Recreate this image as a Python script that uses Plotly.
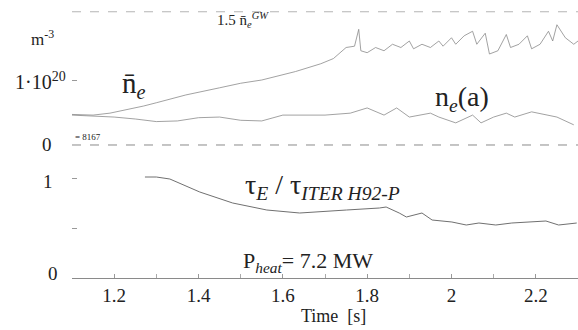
import plotly.graph_objects as go
from plotly.subplots import make_subplots

# ---- data ----
ne_bar_t = [1.10, 1.15, 1.19, 1.23, 1.27, 1.30, 1.37, 1.45, 1.50, 1.55, 1.60, 1.63, 1.69, 1.72, 1.75,
            1.77, 1.78, 1.785, 1.80, 1.82, 1.84, 1.86, 1.88, 1.90, 1.91, 1.93, 1.95, 1.97, 1.98,
            2.00, 2.01, 2.03, 2.05, 2.06, 2.08, 2.09, 2.11, 2.13, 2.14, 2.16, 2.18, 2.19, 2.21,
            2.23, 2.24, 2.25, 2.27, 2.29, 2.30]
ne_bar_v = [0.47, 0.46, 0.49, 0.54, 0.60, 0.65, 0.77, 0.88, 0.95, 1.00, 1.08, 1.13, 1.25, 1.33, 1.50,
            1.52, 1.78, 1.45, 1.42, 1.50, 1.45, 1.55, 1.50, 1.60, 1.48, 1.55, 1.50, 1.60, 1.52,
            1.65, 1.55, 1.68, 1.75, 1.55, 1.72, 1.40, 1.45, 1.70, 1.50, 1.55, 1.68, 1.48, 1.55,
            1.75, 1.60, 1.85, 1.65, 1.55, 1.60]

ne_a_t = [1.10, 1.15, 1.20, 1.25, 1.30, 1.35, 1.40, 1.45, 1.50, 1.55, 1.60, 1.70, 1.76, 1.80, 1.84,
          1.87, 1.90, 1.95, 1.97, 2.01, 2.05, 2.07, 2.10, 2.13, 2.15, 2.19, 2.25, 2.29]
ne_a_v = [0.46, 0.45, 0.43, 0.40, 0.36, 0.37, 0.42, 0.43, 0.38, 0.37, 0.46, 0.46, 0.49, 0.57, 0.46,
          0.57, 0.43, 0.49, 0.43, 0.34, 0.46, 0.34, 0.43, 0.49, 0.43, 0.51, 0.43, 0.31]

ngw_limit = 2.05  # 1.5 n_e^GW, units of 1e20 m^-3

tau_t = [1.273, 1.30, 1.332, 1.403, 1.481, 1.562, 1.640, 1.670, 1.751, 1.829, 1.845, 1.876, 1.893,
         1.930, 1.954, 2.001, 2.035, 2.065, 2.105, 2.143, 2.224, 2.254, 2.297]
tau_v = [1.01, 1.01, 0.99, 0.86, 0.75, 0.68, 0.65, 0.66, 0.68, 0.70, 0.71, 0.65, 0.61,
         0.65, 0.58, 0.56, 0.53, 0.55, 0.53, 0.55, 0.57, 0.53, 0.55]

x_tickvals = [1.2, 1.4, 1.6, 1.8, 2.0, 2.2]
x_ticktext = ["1.2", "1.4", "1.6", "1.8", "2", "2.2"]

FONT = "Liberation Serif"
LC = "#707070"

fig = make_subplots(rows=2, cols=1, shared_xaxes=True, vertical_spacing=0.0,
                    row_heights=[0.5385, 0.4615])

fig.add_trace(go.Scatter(x=ne_bar_t, y=ne_bar_v, mode="lines",
                         line=dict(color="#8a8a8a", width=0.8), showlegend=False), row=1, col=1)
fig.add_trace(go.Scatter(x=ne_a_t, y=ne_a_v, mode="lines",
                         line=dict(color="#8a8a8a", width=0.8), showlegend=False), row=1, col=1)
fig.add_trace(go.Scatter(x=tau_t, y=tau_v, mode="lines",
                         line=dict(color=LC, width=1), showlegend=False), row=2, col=1)

# reference lines in the top panel
fig.add_shape(type="line", xref="x", yref="y", x0=1.1, x1=2.3, y0=0, y1=0,
              line=dict(color="#8a8a8a", width=1, dash="dash"))
fig.add_shape(type="line", xref="x", yref="y", x0=1.1, x1=2.3, y0=ngw_limit, y1=ngw_limit,
              line=dict(color="#b5b5b5", width=1, dash="dash"))

fig.update_xaxes(range=[1.1, 2.3], showgrid=False, zeroline=False)
fig.update_xaxes(row=1, col=1, showline=False, ticks="", showticklabels=False)
fig.update_xaxes(row=2, col=1, showline=True, linecolor="#8a8a8a", linewidth=1,
                 ticks="inside", ticklen=4, tickcolor="#999", tickvals=x_tickvals,
                 ticktext=x_ticktext, tickfont=dict(family=FONT, size=19, color="#222"),
                 minor=dict(ticks="inside", ticklen=4, tickcolor="#aaa", dtick=0.1, tick0=1.1))

fig.update_yaxes(row=1, col=1, range=[-0.108, 2.154], showgrid=False, zeroline=False,
                 showline=False, ticks="inside", ticklen=5, tickcolor="#999",
                 tickvals=[1.0], showticklabels=False)
fig.update_yaxes(row=2, col=1, range=[0, 1.26], showgrid=False, zeroline=False,
                 showline=False, ticks="inside", ticklen=5, tickcolor="#999",
                 tickvals=[0.5, 1.0], showticklabels=False)

ann = []
def A(text, x, y, xref, yref, size, xanchor="left", yanchor="middle", color="#222"):
    ann.append(dict(text=text, x=x, y=y, xref=xref, yref=yref, showarrow=False,
                    xanchor=xanchor, yanchor=yanchor,
                    font=dict(family=FONT, size=size, color=color)))

# y tick labels
A("0", -0.036, 0, "paper", "y", 19, xanchor="right")
A("1·10<sup>20</sup>", -0.008, 0.98, "paper", "y", 20, xanchor="right")
A("m<sup>-3</sup>", -0.032, 1.64, "paper", "y", 17, xanchor="right")
A("1", -0.034, 0.97, "paper", "y2", 19, xanchor="right")
A("0", -0.024, 0.05, "paper", "y2", 19, xanchor="right")

A("1.5 n̄<sub><i>e</i></sub><sup><i>GW</i></sup>", 1.44, 1.93, "x", "y", 15)
A("n̄<sub><i>e</i></sub>", 1.215, 0.93, "x", "y", 29)
A("n<sub><i>e</i></sub>(a)", 1.955, 0.72, "x", "y", 28)
A("= 8167", 1.103, 0.12, "x", "y", 9)
A("τ<sub><i>E</i></sub> / τ<sub><i>ITER H92-P</i></sub>", 1.505, 0.92, "x", "y2", 28)
A("P<sub><i>heat</i></sub>= 7.2 MW", 1.50, 0.16, "x", "y2", 22)
A("Time  [s]", 1.72, -0.14, "x", "paper", 18, xanchor="center")

fig.update_layout(width=578, height=330, margin=dict(l=72, r=0, t=5, b=52),
                  paper_bgcolor="white", plot_bgcolor="white", annotations=ann,
                  font=dict(family=FONT))

fig.write_html("out.html")
